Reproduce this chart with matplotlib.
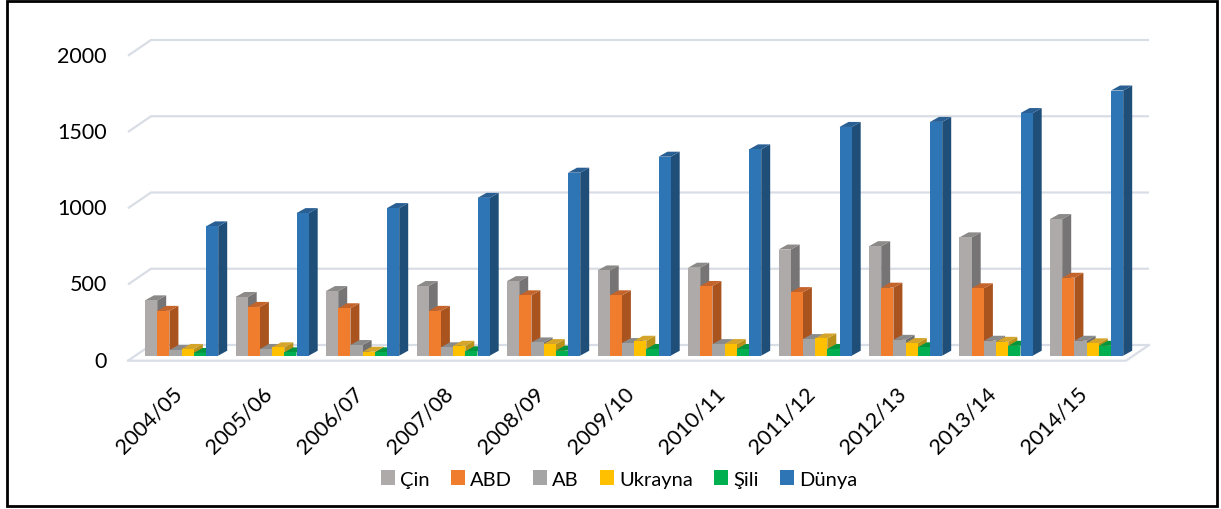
import numpy as np
import matplotlib
matplotlib.use("Agg")
import matplotlib.pyplot as plt
from matplotlib.patches import Polygon, Patch, Rectangle

plt.rcParams['font.family'] = ['Lato', 'DejaVu Sans']

# Data
years = ['2004/05', '2005/06', '2006/07', '2007/08', '2008/09', '2009/10',
         '2010/11', '2011/12', '2012/13', '2013/14', '2014/15']
cin = [363, 385, 424, 457, 489, 559, 577, 696, 718, 776, 896]
abd = [294, 320, 311, 294, 396, 396, 457, 417, 446, 442, 511]
ab = [37, 44, 70, 55, 87, 83, 76, 109, 104, 98, 98]
ukrayna = [44, 55, 26, 65, 76, 98, 76, 113, 83, 91, 81]
sili = [18, 22, 22, 29, 33, 44, 44, 44, 55, 65, 65]
dunya = [848, 935, 968, 1035, 1200, 1305, 1353, 1500, 1533, 1591, 1739]
series_names = ['Çin', 'ABD', 'AB', 'Ukrayna', 'Şili', 'Dünya']
yticks = [0, 500, 1000, 1500, 2000]

# front / side / top colours for the 3D look
front = ['#ADAAA9', '#F07D2E', '#A5A5A5', '#FFC000', '#00B050', '#2E75B6']
side = ['#767474', '#A9531F', '#707070', '#B8901A', '#00803A', '#1F4E79']
topc = ['#8C8A89', '#C4642A', '#8A8A8A', '#D4A52A', '#00963F', '#2A5F94']

W, H = 1221, 510
fig = plt.figure(figsize=(W / 100, H / 100), dpi=100)

# layout helpers (pixel -> data)
x0px, xstep = 181.6, 90.5
y0px, yscale = 356.7, 0.1525
left, right, top, bottom = 100, 1180, 20, 370
ax = fig.add_axes([left / W, 1 - bottom / H, (right - left) / W, (bottom - top) / H])
ax.set_xlim((left - x0px) / xstep, (right - x0px) / xstep)
ax.set_ylim((y0px - bottom) / yscale, (y0px - top) / yscale)
ax.axis('off')

x = np.arange(len(years))

# floor and back-wall gridlines
fy = -5.0 / yscale       # front plane offset
by = 10.7 / yscale       # back plane offset
xfl = (128 - x0px) / xstep
xfr = (1126 - x0px) / xstep
wdx = 23 / xstep
grid_c = '#D9DDE5'
for g in yticks:
    ax.plot([xfl, xfl + wdx, xfr + wdx], [g + fy, g + by, g + by],
            color=grid_c, lw=1.6, zorder=1, solid_capstyle='butt')
ax.plot([xfl, xfr, xfr + wdx], [fy, fy, by], color=grid_c, lw=1.6, zorder=1)

for g in yticks:
    ax.text((107 - x0px) / xstep, g + fy, str(g), ha='right', va='center',
            fontsize=15.5, color='#000000')

# bars
bw = 12.2 / xstep
ddx = 9 / xstep
ddy = 5 / yscale
offsets = (np.arange(6) - 2.5) * bw
for k, vals in enumerate([cin, abd, ab, ukrayna, sili, dunya]):
    z = 10 + 3 * k
    ax.bar(x + offsets[k], vals, width=bw, color=front[k], lw=0, zorder=z + 2)
    for i, v in enumerate(vals):
        xl = x[i] + offsets[k] - bw / 2
        xr = xl + bw
        ax.add_patch(Polygon([(xr, 0), (xr + ddx, ddy), (xr + ddx, v + ddy), (xr, v)],
                             closed=True, fc=side[k], ec='none', zorder=z))
        ax.add_patch(Polygon([(xl, v), (xr, v), (xr + ddx, v + ddy), (xl + ddx, v + ddy)],
                             closed=True, fc=topc[k], ec='none', zorder=z + 1))

# category labels
for i, yr in enumerate(years):
    ax.text(x[i] - 3 / xstep, (y0px - 391) / yscale, yr, rotation=45,
            rotation_mode='anchor', ha='right', va='center', fontsize=15.5)

handles = [Patch(facecolor=front[k], edgecolor='none') for k in range(6)]
fig.legend(handles, series_names, loc='center', bbox_to_anchor=(619 / W, 1 - 480 / H),
           ncol=6, frameon=False, fontsize=14.5, handlelength=0.7, handleheight=0.7,
           handletextpad=0.25, columnspacing=1.05)

# outer frame
fig.add_artist(Rectangle((7 / W, 3 / H), (1217 - 7) / W, (508 - 3) / H,
                         transform=fig.transFigure, fill=False, lw=2, ec='black'))

fig.savefig('out.png', dpi=100)
